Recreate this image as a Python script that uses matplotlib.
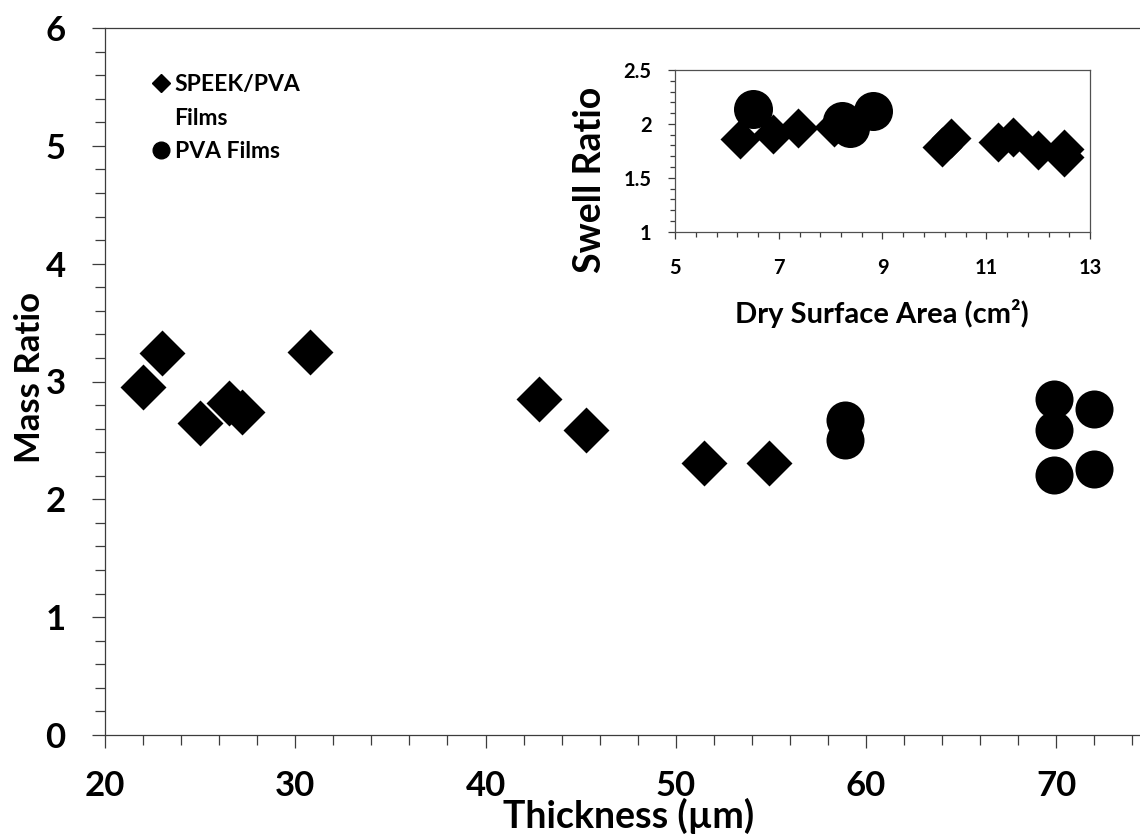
import numpy as np
import matplotlib
matplotlib.use("Agg")
from matplotlib import pyplot as plt
from matplotlib.lines import Line2D
from matplotlib.ticker import MultipleLocator, FuncFormatter

plt.rcParams['font.family'] = ['Lato', 'DejaVu Sans']
plt.rcParams['font.weight'] = 'bold'
plt.rcParams['axes.labelweight'] = 'bold'

# mass ratio vs film thickness
thickness_speek = [22.0, 23.0, 25.0, 26.5, 27.2, 30.8, 42.8, 45.3, 51.5, 54.9]
mass_speek = [2.95, 3.24, 2.65, 2.82, 2.74, 3.25, 2.85, 2.59, 2.31, 2.31]
thickness_pva = [58.9, 58.9, 69.9, 69.9, 69.9, 72.0, 72.0]
mass_pva = [2.67, 2.50, 2.85, 2.59, 2.21, 2.77, 2.26]

# swell ratio vs dry surface area (inset)
area_speek = [6.25, 6.89, 7.38, 8.07, 10.14, 10.33, 11.23, 11.52, 12.0, 12.5, 12.5]
swell_speek = [1.86, 1.91, 1.96, 1.97, 1.79, 1.87, 1.83, 1.88, 1.76, 1.77, 1.69]
area_pva = [6.51, 8.21, 8.37, 8.82]
swell_pva = [2.14, 2.03, 1.96, 2.12]

area_ticks = [5, 7, 9, 11, 13]

W, H = 1140, 836
fig = plt.figure(figsize=(W / 100, H / 100), dpi=100)

line_col = '#3c3c3c'

# ---- main plot
ax = fig.add_axes([105 / W, 1 - 735 / H, (W - 105) / W, (735 - 28) / H])
ax.scatter(thickness_speek, mass_speek, marker='D', s=548, color='black', linewidths=0, zorder=3)
ax.scatter(thickness_pva, mass_pva, marker='o', s=750, color='black', linewidths=0, zorder=3)
ax.set_xlim(20, 74.4)
ax.set_ylim(0, 6)
ax.xaxis.set_major_locator(MultipleLocator(10))
ax.xaxis.set_minor_locator(MultipleLocator(2))
ax.yaxis.set_major_locator(MultipleLocator(1))
ax.yaxis.set_minor_locator(MultipleLocator(0.2))
ax.spines['right'].set_visible(False)
for s in ['left', 'bottom', 'top']:
    ax.spines[s].set_color(line_col)
    ax.spines[s].set_linewidth(0.9)
ax.tick_params(which='both', direction='out', color=line_col, width=0.9)
ax.tick_params(which='major', length=9.4, labelsize=25)
ax.tick_params(which='minor', length=7.2)
ax.tick_params(axis='x', which='major', pad=16)
ax.tick_params(axis='y', which='major', pad=19)
ax.set_xlabel('Thickness (µm)', fontsize=27, va='baseline')
ax.set_ylabel('Mass Ratio', fontsize=25, va='center')
ax.xaxis.set_label_coords(0.5058, -0.1315)
ax.yaxis.set_label_coords(-0.0725, 0.505)

handles = [
    Line2D([], [], marker='D', color='black', linestyle='none', markersize=8.7),
    Line2D([], [], linestyle='none'),
    Line2D([], [], marker='o', color='black', linestyle='none', markersize=12),
]
ax.legend(handles, ['SPEEK/PVA', 'Films', 'PVA Films'], loc='upper left',
          bbox_to_anchor=(154 / W, 1 - 74 / H), bbox_transform=fig.transFigure,
          frameon=False, fontsize=16.5, handlelength=0.6, handletextpad=0.3,
          borderpad=0, borderaxespad=0, labelspacing=0.55)

# ---- inset
ax_in = fig.add_axes([675 / W, 1 - 231.7 / H, 415 / W, 161.7 / H])
ax_in.scatter(area_speek, swell_speek, marker='D', s=415, color='black', linewidths=0, zorder=3)
ax_in.scatter(area_pva, swell_pva, marker='o', s=789, color='black', linewidths=0, zorder=3)
ax_in.set_xlim(5, 13)
ax_in.set_ylim(1, 2.5)
ax_in.set_xticks(area_ticks)
ax_in.set_xticks(np.arange(5, 13.01, 0.4), minor=True)
ax_in.yaxis.set_major_locator(MultipleLocator(0.5))
ax_in.yaxis.set_minor_locator(MultipleLocator(0.1))
ax_in.yaxis.set_major_formatter(FuncFormatter(lambda v, p: '{:g}'.format(v)))
for s in ax_in.spines.values():
    s.set_color('#505050')
    s.set_linewidth(0.9)
ax_in.tick_params(which='both', direction='out', color=line_col, width=0.9)
ax_in.tick_params(which='major', length=5, labelsize=14.5)
ax_in.tick_params(which='minor', length=3.6)
ax_in.tick_params(axis='x', which='major', pad=14)
ax_in.tick_params(axis='y', which='major', pad=12)
ax_in.set_xlabel('Dry Surface Area (cm²)', fontsize=21, va='center')
ax_in.set_ylabel('Swell Ratio', fontsize=27, va='center')
ax_in.xaxis.set_label_coords(0.4976, -0.503)
ax_in.yaxis.set_label_coords(-0.205, 0.32)

fig.savefig('out.png', dpi=100)
